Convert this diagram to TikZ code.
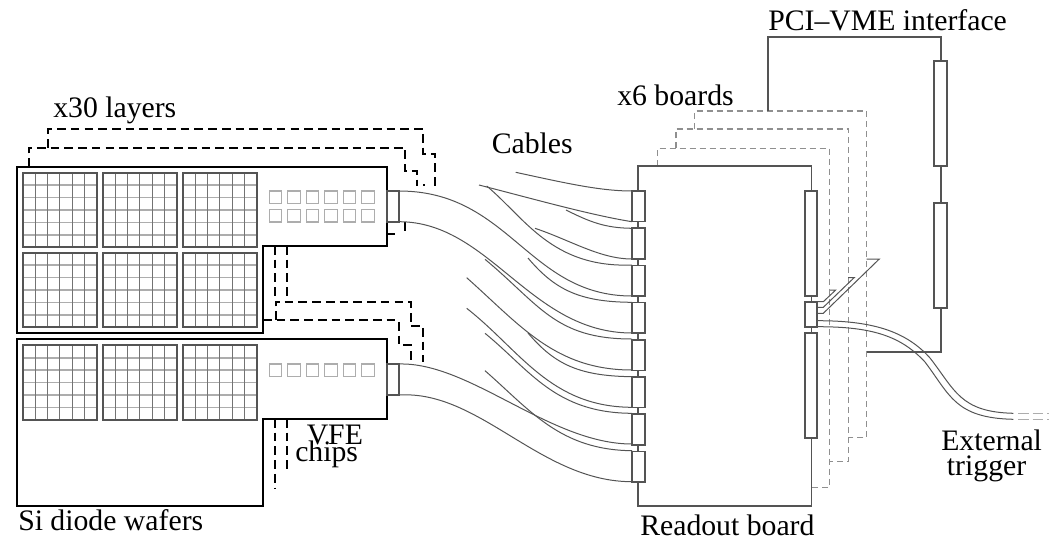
\documentclass[tikz,border=0pt]{standalone}
\usepackage{fontspec}
\setmainfont{Liberation Serif}
\definecolor{outlinegray}{gray}{0.33}
\definecolor{gridgray}{gray}{0.45}
\definecolor{softgray}{gray}{0.68}
\tikzset{
  layerbox/.style={draw=black,line width=1.8pt},
  waferbox/.style={draw=outlinegray,line width=1.3pt},
  chipbox/.style={draw=softgray,line width=1pt},
  backdash/.style={draw=black,line width=1.5pt,dash pattern=on 6.5pt off 3.8pt},
  boardline/.style={draw=outlinegray,line width=1.3pt},
  boarddash/.style={draw=gridgray!80,line width=1pt,dash pattern=on 4.5pt off 3pt},
  cable/.style={draw=outlinegray,line width=.75pt},
  textlabel/.style={anchor=base west,inner sep=0pt,font=\fontsize{22.3}{24}\selectfont},
}
% one silicon wafer, top left corner in px
\newcommand{\waferblock}[2]{
  \begin{scope}[shift={(#1,#2)}]
    \foreach \k in {1,...,5} {
      \draw[softgray,line width=1.2pt] (0,12.4*\k) -- (74.4,12.4*\k);
    }
    \foreach \k in {1,...,5} {
      \draw[gridgray,line width=.8pt] (12.4*\k,0) -- (12.4*\k,74.4);
    }
    \draw[waferbox] (0,0) rectangle (74.4,74.4);
  \end{scope}
}
\begin{document}
\begin{tikzpicture}[x=.75pt,y=-.75pt]
  \useasboundingbox (0,0) rectangle (1050,540);

  % hidden layers behind the two detector slabs
  \draw[backdash] (28.7,167) -- (28.7,147.7) -- (405,147.7) -- (405,171) -- (417,171) -- (417,186);
  \draw[backdash] (48,147.7) -- (48,129.3) -- (423.3,129.3) -- (423.3,153.5) -- (435,153.5) -- (435,186);
  \draw[backdash] (424,184) -- (424,185.5);
  \draw[backdash] (386.7,234) -- (397,234);
  \draw[backdash] (404.5,222) -- (404.5,232);
  \draw[backdash] (275.3,246) -- (275.3,296) -- (278,296);
  \draw[backdash] (287.3,246) -- (287.3,297);
  \draw[backdash] (275.5,320) -- (275.5,301.7) -- (410.5,301.7) -- (410.5,326) -- (423.3,326) -- (423.3,362);
  \draw[backdash] (263,320) -- (398.5,320) -- (398.5,344.5) -- (410.5,344.5) -- (410.5,361);
  \draw[backdash] (275.3,419) -- (275.3,488);
  \draw[backdash] (287.3,419) -- (287.3,469);

  % the two slabs
  \draw[layerbox] (16.7,167) -- (386.7,167) -- (386.7,246) -- (263,246) -- (263,333) -- (16.7,333) -- cycle;
  \draw[layerbox] (16.7,339) -- (386.7,339) -- (386.7,419) -- (263,419) -- (263,506) -- (16.7,506) -- cycle;

  \foreach \wx in {22.7,102.7,182.7} {
    \waferblock{\wx}{172.7}
    \waferblock{\wx}{252.7}
    \waferblock{\wx}{345.3}
  }
  \foreach \n in {0,...,5} {
    \draw[chipbox] (269.3+18.5*\n,191) rectangle ++(12.4,12.4);
    \draw[chipbox] (269.3+18.5*\n,209.5) rectangle ++(12.4,12.4);
    \draw[chipbox] (269.3+18.5*\n,364) rectangle ++(12.4,12.4);
  }
  \draw[boardline] (386.7,191) rectangle (399,221.7);
  \draw[boardline] (386.7,364) rectangle (399,395);

  % cables, free ends sit behind the other layers
  \draw[cable] (515.7,172.3) .. controls (565,183) and (600,191) .. (632,191);
  \draw[cable] (479,185) .. controls (530,198) and (590,215) .. (632,221.7);
  \draw[cable] (566,210) .. controls (590,222) and (605,228) .. (632,228.3);
  \draw[cable] (486.7,186) .. controls (525,218) and (552,268) .. (632,265);
  \draw[cable] (535,228.3) .. controls (570,240) and (600,259) .. (632,259);
  \draw[cable] (399,191) .. controls (510,191) and (528,296) .. (632,296);
  \draw[cable] (528,258) .. controls (555,290) and (580,302) .. (632,302.3);
  \draw[cable] (399,221.7) .. controls (490,221.7) and (530,333) .. (632,333);
  \draw[cable] (485,259.3) .. controls (540,305) and (555,339) .. (632,339);
  \draw[cable] (466.7,277.7) .. controls (520,325) and (555,370) .. (632,370);
  \draw[cable] (528,333) .. controls (555,365) and (580,376) .. (632,376.7);
  \draw[cable] (466.7,308.3) .. controls (520,350) and (550,407) .. (632,407.3);
  \draw[cable] (485,333.3) .. controls (530,370) and (555,413) .. (632,413.3);
  \draw[cable] (399,364) .. controls (470,362) and (550,444) .. (632,444);
  \draw[cable] (485,370.7) .. controls (530,410) and (560,450) .. (632,450.7);
  \draw[cable] (399,395) .. controls (480,390) and (540,481.7) .. (632,481.7);

  % readout boards
  \draw[boarddash] (657.3,166) -- (657.3,148.3) -- (829.3,148.3) -- (829.3,487.3) -- (811.7,487.3);
  \draw[boarddash] (676,148.3) -- (676,129) -- (848.3,129) -- (848.3,461.7) -- (829.3,461.7);
  \draw[boarddash] (694.7,129) -- (694.7,111) -- (866.7,111) -- (866.7,437.7) -- (848.3,437.7);
  \draw[boardline] (638.3,166) rectangle (811.5,505.7);
  \foreach \n in {0,...,7} {
    \draw[boardline,fill=white] (632.3,191+37.2*\n) rectangle ++(12.7,30.6);
  }
  \draw[boardline,fill=white] (805,191) rectangle (817.3,295.7);
  \draw[boardline,fill=white] (805,302.3) rectangle (817.3,326.7);
  \draw[boardline,fill=white] (805,333.3) rectangle (817.3,438.3);

  % interface
  \draw[boardline] (768.3,111) -- (768.3,36.7) -- (940.7,36.7) -- (940.7,61);
  \draw[boardline] (940.7,166) -- (940.7,203.3);
  \draw[boardline] (940.7,308.3) -- (940.7,351.7) -- (866.7,351.7);
  \draw[boardline,fill=white] (934.3,61) rectangle (947,166);
  \draw[boardline,fill=white] (934.3,203.3) rectangle (947,308.3);

  % trigger lines
  \draw[cable] (817.3,301.7) -- (823.3,301.7) -- (835.7,290) -- (830,290);
  \draw[cable] (817.3,307.3) -- (823.3,307.3) -- (854.3,277.5) -- (848,277.5);
  \draw[cable] (817.3,313.3) -- (823.3,313.3) -- (879.3,259) -- (866.7,259);
  \draw[cable] (817.3,320.7) .. controls (870,320.7) and (905,330) .. (930,358) .. controls (955,390) and (960,412) .. (1013.3,413.3);
  \draw[cable] (817.3,326.7) .. controls (870,326.7) and (900,335) .. (925,362) .. controls (950,395) and (955,418) .. (1013.3,419.3);
  \draw[softgray,line width=.8pt,dash pattern=on 8pt off 3pt] (1018,413.3) -- (1049,413.3);
  \draw[softgray,line width=.8pt,dash pattern=on 8pt off 3pt] (1018,419.3) -- (1049,419.3);

  \node[textlabel] (layerstext) at (53,117) {x30 layers};
  \node[textlabel] (cablestext) at (491.5,153) {Cables};
  \node[textlabel] (boardstext) at (617,105) {x6 boards};
  \node[textlabel] (pcitext) at (768,30.7) {PCI--VME interface};
  \node[textlabel] (readouttext) at (640,535.5) {Readout board};
  \node[textlabel] (wafertext) at (18,530) {Si diode wafers};
  \node[textlabel] (vfetext) at (306.5,444) {VFE};
  \node[textlabel] (chipstext) at (295,461.7) {chips};
  \node[textlabel] (externaltext) at (941,450) {External};
  \node[textlabel] (triggertext) at (946.7,475) {trigger};
\end{tikzpicture}
\end{document}
